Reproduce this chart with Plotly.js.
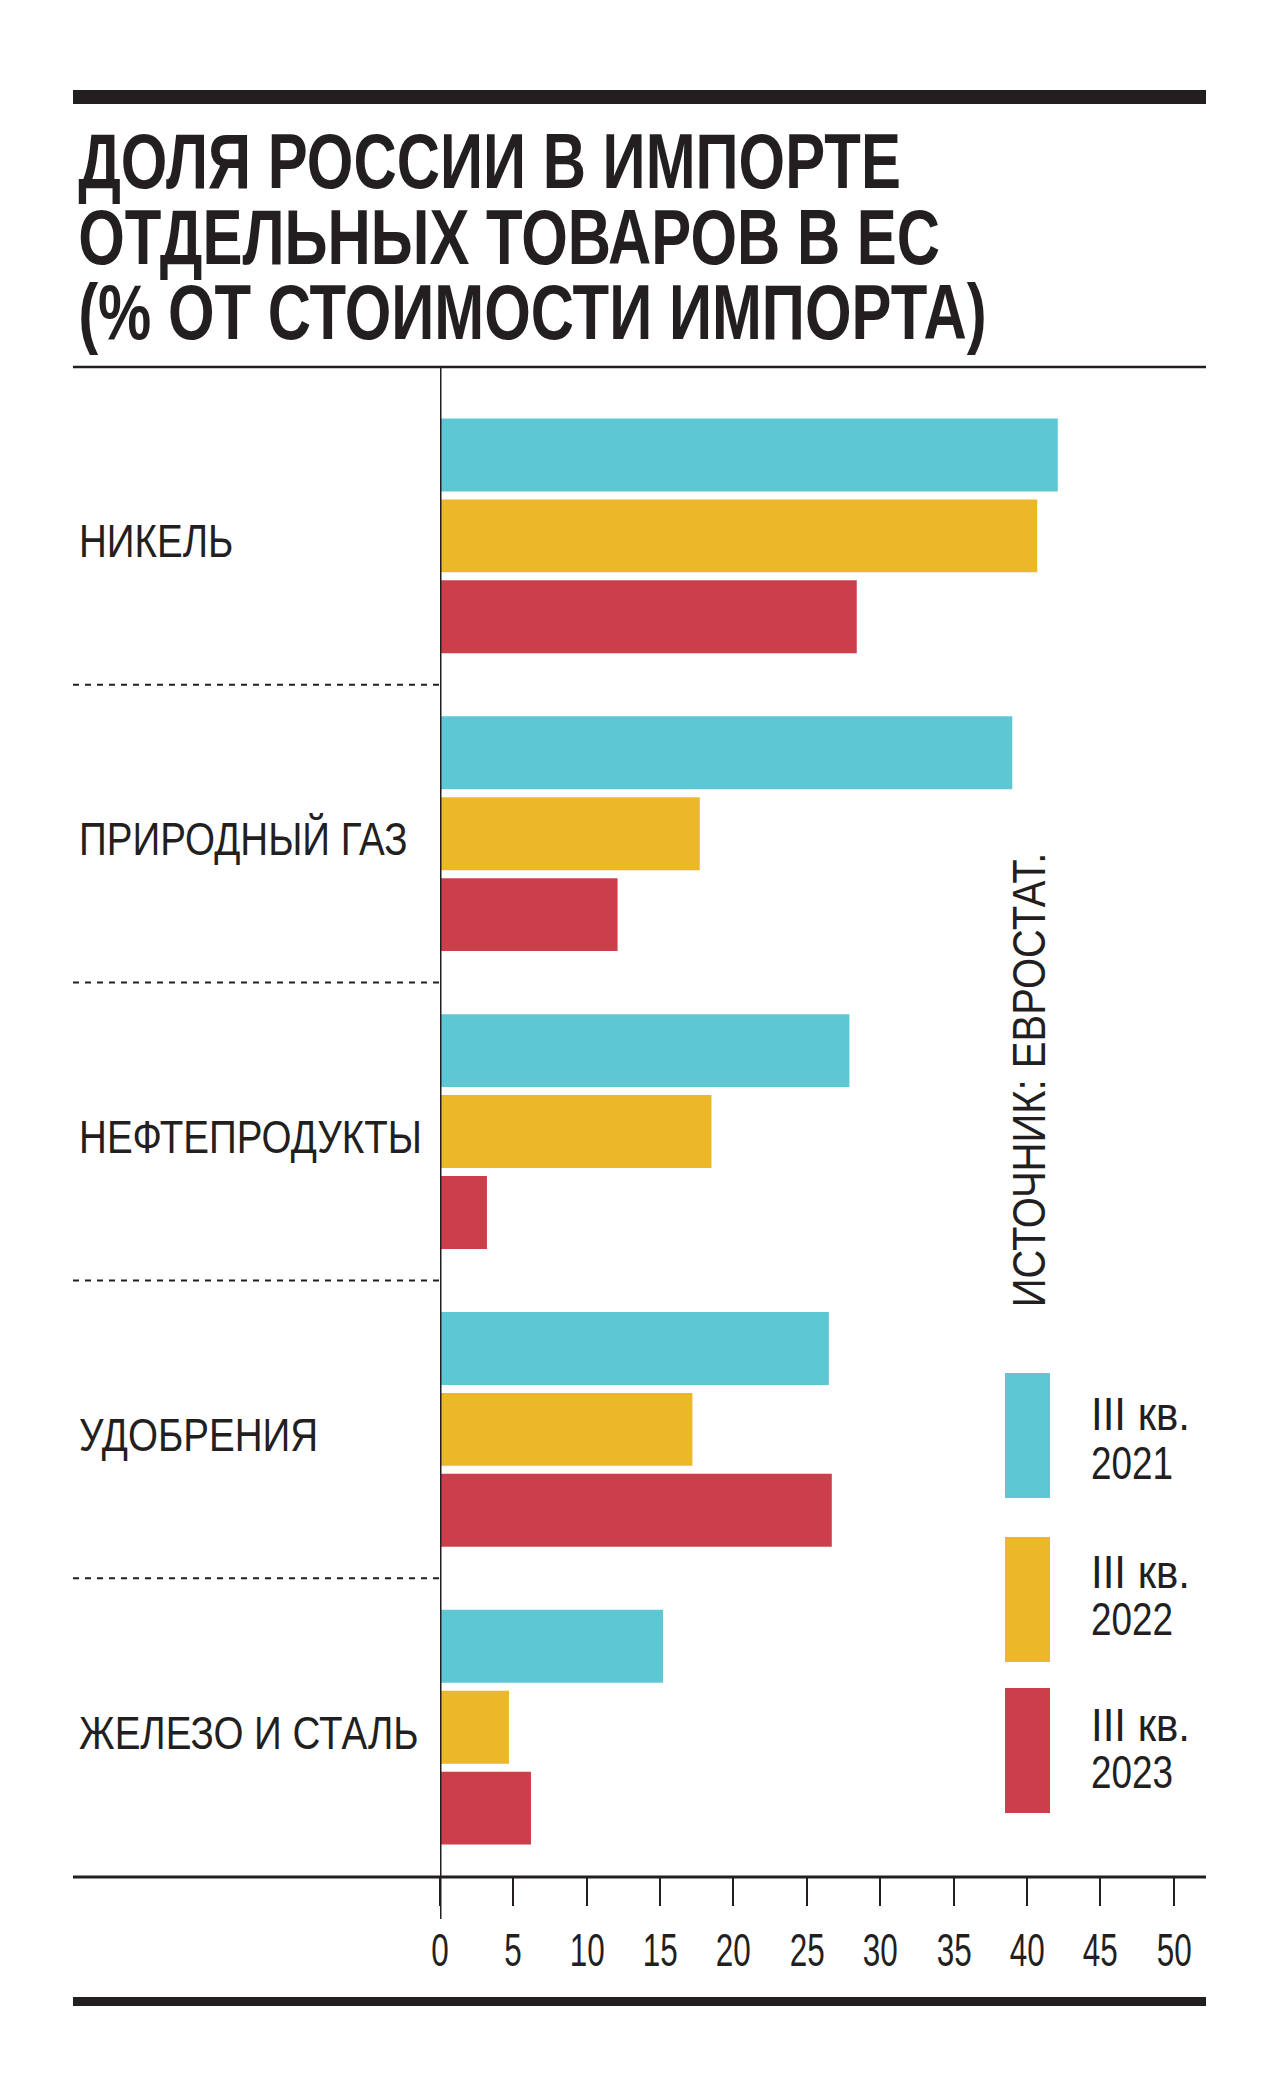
<!DOCTYPE html>
<html>
<head>
<meta charset="utf-8">
<script src="https://cdn.plot.ly/plotly-3.0.1.min.js"></script>
<style>
  html, body { margin: 0; padding: 0; background: #ffffff; }
  #chart { width: 1280px; height: 2084px; }
</style>
</head>
<body>
<div id="chart"></div>
<script>
// ---- data ----
const categories = ['НИКЕЛЬ', 'ПРИРОДНЫЙ ГАЗ', 'НЕФТЕПРОДУКТЫ', 'УДОБРЕНИЯ', 'ЖЕЛЕЗО И СТАЛЬ'];
const q3_2021 = [42.1, 39.0, 27.9, 26.5, 15.2];
const q3_2022 = [40.7, 17.7, 18.5, 17.2, 4.7];
const q3_2023 = [28.4, 12.1, 3.2, 26.7, 6.2];
const seriesNames = ['III кв. 2021', 'III кв. 2022', 'III кв. 2023'];
const legendLine1 = ['III кв.', 'III кв.', 'III кв.'];
const legendLine2 = ['2021', '2022', '2023'];
const tickValues = [0, 5, 10, 15, 20, 25, 30, 35, 40, 45, 50];
const tickLabels = ['0', '5', '10', '15', '20', '25', '30', '35', '40', '45', '50'];
const titleLines = ['ДОЛЯ РОССИИ В ИМПОРТЕ', 'ОТДЕЛЬНЫХ ТОВАРОВ В ЕС', '(% ОТ СТОИМОСТИ ИМПОРТА)'];
const sourceText = 'ИСТОЧНИК: ЕВРОСТАТ.';

// ---- styles ----
const colors = ['#5EC7D4', '#EBB829', '#CC3F4A'];
const INK = '#231f20';
const FONT = '"Liberation Sans", Arial, sans-serif';

// geometry helpers (pixel -> paper)
const W = 1280, H = 2084;
const ML = 440, MR = 74, MT = 367, MB = 207;
const PW = W - ML - MR, PH = H - MT - MB;
const px = x => (x - ML) / PW;
const py = y => (H - MB - y) / PH;

const seriesData = [q3_2021, q3_2022, q3_2023];
const traces = seriesData.map((vals, i) => ({
  type: 'bar',
  orientation: 'h',
  name: seriesNames[i],
  y: categories,
  x: vals,
  marker: { color: colors[i], line: { width: 0 } },
  hoverinfo: 'x+name'
}));

const shapes = [];
const annotations = [];
const groups = { title: [], label: [], tick: [], source: [], legend1: [], legend2: [] };
function addAnn(group, a) { groups[group].push(annotations.length); annotations.push(a); }

// thick top rule
shapes.push({ type: 'rect', xref: 'paper', yref: 'paper', x0: px(73), x1: px(1206), y0: py(104), y1: py(90), fillcolor: INK, line: { width: 0 } });
// thin rule under the title
shapes.push({ type: 'line', xref: 'paper', yref: 'paper', x0: px(73), x1: px(1206), y0: 1, y1: 1, line: { color: INK, width: 2.5 } });
// horizontal axis line
shapes.push({ type: 'line', xref: 'paper', yref: 'paper', x0: px(73), x1: px(1206), y0: 0, y1: 0, line: { color: INK, width: 3 }, layer: 'above' });
// vertical axis line (extends below as the zero tick)
shapes.push({ type: 'line', xref: 'x', yref: 'paper', x0: 0, x1: 0, y0: py(1919), y1: 1, line: { color: INK, width: 3 }, layer: 'above' });
// thick bottom rule
shapes.push({ type: 'rect', xref: 'paper', yref: 'paper', x0: px(73), x1: px(1206), y0: py(2006), y1: py(1997), fillcolor: INK, line: { width: 0 } });
// dashed separators between categories
for (let i = 0; i < categories.length - 1; i++) {
  shapes.push({ type: 'line', xref: 'paper', yref: 'y', x0: px(73), x1: 0, y0: i + 0.5, y1: i + 0.5, line: { color: INK, width: 2, dash: '6px,6px' } });
}

// title lines
const titleY = [161, 237, 312];
titleLines.forEach((t, i) => {
  addAnn('title', {
    text: t, xref: 'paper', yref: 'paper', x: px(76), y: py(titleY[i]),
    xanchor: 'left', yanchor: 'middle', showarrow: false,
    font: { family: FONT, size: 78, color: INK, weight: 700 }
  });
});

// category labels
categories.forEach((c, i) => {
  addAnn('label', {
    text: c, xref: 'paper', yref: 'y', x: px(77), y: i, yshift: -5,
    xanchor: 'left', yanchor: 'middle', showarrow: false,
    font: { family: FONT, size: 47, color: INK }
  });
});

// x tick labels (placed through the x scale)
tickValues.forEach((v, i) => {
  addAnn('tick', {
    text: tickLabels[i], xref: 'x', yref: 'paper', x: v, y: py(1949),
    xanchor: 'center', yanchor: 'middle', showarrow: false,
    font: { family: FONT, size: 47, color: INK }
  });
});

// source (rotated)
addAnn('source', {
  text: sourceText, xref: 'paper', yref: 'paper', x: px(1028), y: py(1080),
  xanchor: 'center', yanchor: 'middle', textangle: -90, showarrow: false,
  font: { family: FONT, size: 47, color: INK }
});

// legend (manual)
const legendTop = [1373, 1537, 1688];
const legendTextY1 = [1414, 1571, 1724];
const legendTextY2 = [1462, 1618, 1771];
legendTop.forEach((top, i) => {
  shapes.push({ type: 'rect', xref: 'paper', yref: 'paper', x0: px(1005), x1: px(1050), y0: py(top + 125), y1: py(top), fillcolor: colors[i], line: { width: 0 } });
  addAnn('legend1', {
    text: legendLine1[i], xref: 'paper', yref: 'paper', x: px(1089), y: py(legendTextY1[i]),
    xanchor: 'left', yanchor: 'middle', showarrow: false,
    font: { family: FONT, size: 47, color: INK }
  });
  addAnn('legend2', {
    text: legendLine2[i], xref: 'paper', yref: 'paper', x: px(1089), y: py(legendTextY2[i]),
    xanchor: 'left', yanchor: 'middle', showarrow: false,
    font: { family: FONT, size: 47, color: INK }
  });
});

const layout = {
  width: W, height: H,
  margin: { l: ML, r: MR, t: MT, b: MB, pad: 0 },
  paper_bgcolor: '#ffffff', plot_bgcolor: '#ffffff',
  showlegend: false,
  barmode: 'group',
  bargap: 0.185,
  bargroupgap: 0.099,
  xaxis: {
    range: [0, 52.2],
    tickmode: 'array', tickvals: tickValues,
    showticklabels: false,
    ticks: 'outside', ticklen: 28, tickwidth: 2, tickcolor: INK,
    showline: false, zeroline: false, showgrid: false,
    fixedrange: true
  },
  yaxis: {
    type: 'category',
    range: [4.503, -0.567],
    showticklabels: false, ticks: '',
    showline: false, zeroline: false, showgrid: false,
    fixedrange: true
  },
  shapes: shapes,
  annotations: annotations
};

// condensed look: the reference uses a condensed face; squeeze each text group horizontally
// (reference element index within group, its target width in px, transform origin)
const squeeze = [
  { group: 'title',   ref: 0, target: 823, origin: 'left center' },
  { group: 'label',   ref: 2, target: 343, origin: 'left center' },
  { group: 'tick',    ref: 2, target: 35,  origin: 'center center' },
  { group: 'source',  ref: 0, target: 455, origin: 'center center' },
  { group: 'legend1', ref: 0, target: 99,  origin: 'left center' },
  { group: 'legend2', ref: 0, target: 82,  origin: 'left center' }
];

const gd = document.getElementById('chart');
Plotly.newPlot(gd, traces, layout, { displayModeBar: false, staticPlot: true }).then(() => {
  const textOf = idx => gd.querySelector('g.annotation[data-index="' + idx + '"] text.annotation-text');
  squeeze.forEach(s => {
    const idxs = groups[s.group];
    const refEl = textOf(idxs[s.ref]);
    if (!refEl) return;
    const w = refEl.getBBox().width;
    if (!w) return;
    const f = s.target / w;
    idxs.forEach(idx => {
      const t = textOf(idx);
      if (!t) return;
      t.style.transformBox = 'fill-box';
      t.style.transformOrigin = s.origin;
      t.style.transform = 'scaleX(' + f.toFixed(4) + ')';
    });
  });
});
</script>
</body>
</html>
